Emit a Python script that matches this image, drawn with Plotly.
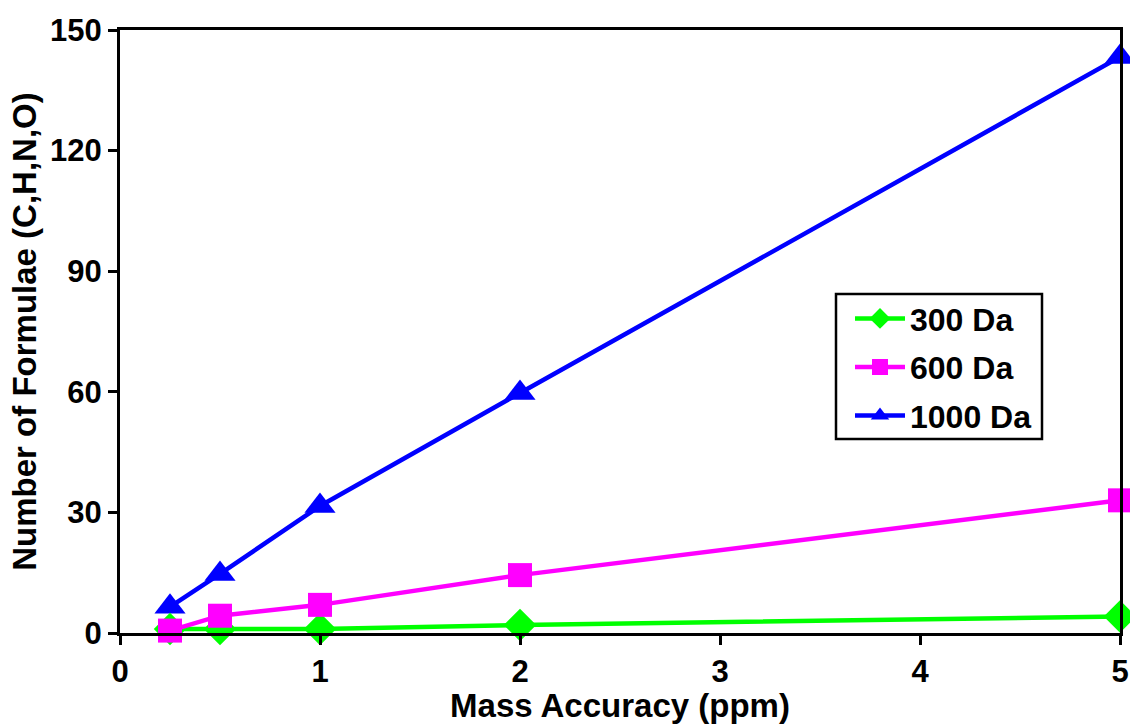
import plotly.graph_objects as go

mass_accuracy = [0.25, 0.5, 1, 2, 5]
da300 = [1, 1, 1, 2, 4.1]
da600 = [0.6, 4.3, 7.0, 14.4, 33]
da1000 = [6.5, 14.7, 31.6, 59.7, 143.3]

x_ticks = [0, 1, 2, 3, 4, 5]
y_ticks = [0, 30, 60, 90, 120, 150]

FONT = "Liberation Sans, Arial, sans-serif"

fig = go.Figure()
fig.add_trace(go.Scatter(x=mass_accuracy, y=da1000, name="1000 Da", mode="lines+markers",
                         line=dict(color="#0000ff", width=4.5),
                         marker=dict(symbol="triangle-up", size=27, color="#0000ff"),
                         cliponaxis=False, legendrank=3, legendgroup="c"))
fig.add_trace(go.Scatter(x=mass_accuracy, y=da300, name="300 Da", mode="lines+markers",
                         line=dict(color="#00ff00", width=4.5),
                         marker=dict(symbol="diamond", size=25, color="#00ff00"),
                         cliponaxis=False, legendrank=1, legendgroup="a"))
fig.add_trace(go.Scatter(x=mass_accuracy, y=da600, name="600 Da", mode="lines+markers",
                         line=dict(color="#ff00ff", width=4.5),
                         marker=dict(symbol="square", size=24, color="#ff00ff"),
                         cliponaxis=False, legendrank=2, legendgroup="b"))

axis_common = dict(showgrid=False, zeroline=False, showline=True, linecolor="black", linewidth=3,
                   mirror=True, ticks="outside", ticklen=9, tickwidth=2.5, tickcolor="black",
                   automargin=False, ticklabeloverflow="allow",
                   tickfont=dict(family=FONT, size=31, color="black", weight="bold"))

fig.update_xaxes(range=[0, 5], tickvals=x_ticks,
                 title=dict(text="Mass Accuracy (ppm)", standoff=18,
                            font=dict(family=FONT, size=33, color="black", weight="bold")),
                 **axis_common)
fig.update_yaxes(range=[0, 150], tickvals=y_ticks,
                 title=dict(text="Number of Formulae (C,H,N,O)", standoff=4,
                            font=dict(family=FONT, size=33, color="black", weight="bold")),
                 **axis_common)

# legend frame
fig.add_shape(type="rect", xref="paper", yref="paper",
              x0=0.716, x1=0.922, y0=0.3217, y1=0.5622,
              line=dict(color="black", width=2.5), fillcolor="white", layer="below")

fig.update_layout(
    width=1130, height=724,
    margin=dict(l=120, r=10, t=30, b=91),
    plot_bgcolor="white", paper_bgcolor="white",
    font=dict(family=FONT, color="black"),
    legend=dict(x=0.730, y=0.567, xanchor="left", yanchor="top",
                borderwidth=0, bgcolor="rgba(0,0,0,0)",
                font=dict(family=FONT, size=32, color="black", weight="bold"),
                traceorder="grouped", tracegroupgap=4, itemwidth=50),
    showlegend=True,
)

fig.write_html("out.html", config={"displayModeBar": False},
               post_script="document.body.style.margin='0';document.body.style.overflow='hidden';")
